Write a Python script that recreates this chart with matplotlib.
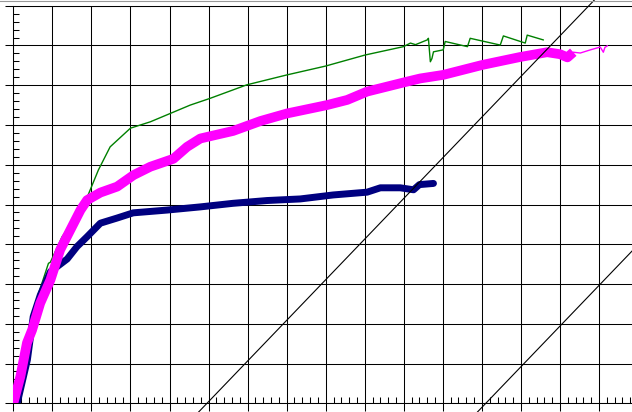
import numpy as np
import matplotlib
matplotlib.use("Agg")
from matplotlib import pyplot as plt
from matplotlib.ticker import MultipleLocator, AutoMinorLocator
from matplotlib.lines import Line2D

# curves, in grid units (1 unit = 1 grid cell)
pink_x = [0.00, 0.18, 0.35, 0.48, 0.69, 0.95, 1.20, 1.46, 1.72, 1.89, 2.23, 2.66, 3.08, 3.51,
          4.10, 4.45, 4.79, 5.63, 6.33, 7.01, 8.03, 8.55, 9.06, 10.08, 10.42, 11.01, 12.01,
          12.98, 13.67, 14.00, 14.19, 14.34]
pink_y = [0.00, 0.67, 1.52, 1.84, 2.52, 3.10, 3.86, 4.36, 4.86, 5.11, 5.30, 5.45, 5.74, 5.95,
          6.15, 6.45, 6.66, 6.85, 7.10, 7.29, 7.50, 7.63, 7.84, 8.09, 8.17, 8.26, 8.51,
          8.71, 8.83, 8.78, 8.70, 8.83]
pink_tail_x = [14.34, 14.52, 14.78, 15.03, 15.11, 15.15, 15.21]
pink_tail_y = [8.83, 8.81, 8.89, 8.96, 8.83, 8.95, 8.99]

navy_x = [0.10, 0.36, 0.51, 0.69, 0.95, 1.38, 1.63, 1.89, 2.23, 2.66, 3.07, 3.94, 4.79, 5.63,
          6.50, 7.35, 8.19, 9.06, 9.40, 9.91, 10.25, 10.40, 10.76]
navy_y = [0.00, 1.09, 2.18, 2.72, 3.31, 3.63, 3.94, 4.19, 4.53, 4.66, 4.79, 4.86, 4.94, 5.03,
          5.10, 5.14, 5.24, 5.31, 5.42, 5.42, 5.37, 5.50, 5.53]

green_x = [0.05, 0.40, 0.65, 0.90, 0.95, 1.25, 1.79, 2.18, 2.48, 3.00, 3.51, 4.02, 4.53, 5.04,
           5.98, 7.01, 7.99, 9.01, 9.99, 10.17, 10.30, 10.60, 10.63, 10.68, 10.72, 10.76,
           11.01, 11.06, 11.63, 11.70, 12.47, 12.55, 13.11, 13.16, 13.57]
green_y = [0.00, 1.90, 2.77, 3.52, 3.55, 4.19, 4.94, 5.87, 6.45, 6.92, 7.08, 7.29, 7.50, 7.67,
           8.01, 8.26, 8.48, 8.76, 8.97, 9.06, 9.02, 9.14, 9.18, 8.59, 8.67, 8.84,
           8.89, 9.10, 8.97, 9.18, 9.01, 9.24, 9.06, 9.26, 9.14]

# offset lines: x = start + slope * y
offset_starts = [4.96, 12.10]
offset_slope = 0.978
line_y = [-0.25, 10.4]

W, H = 632, 412
fig = plt.figure(figsize=(W / 100, H / 100), dpi=100)
left, bottom, top = 13.3, 412 - 403.3, 5.7
ax = fig.add_axes([left / W, bottom / H, (W - left) / W, (H - top - bottom) / H])

ax.set_xlim(0, (W - left) / 39.05)
ax.set_ylim(0, 10)

ax.xaxis.set_major_locator(MultipleLocator(1))
ax.yaxis.set_major_locator(MultipleLocator(1))
ax.xaxis.set_minor_locator(AutoMinorLocator(5))
ax.yaxis.set_minor_locator(AutoMinorLocator(5))
ax.grid(True, which="major", color="black", lw=0.75)
ax.set_axisbelow(True)

ax.tick_params(which="major", direction="out", length=6, width=0.75, color="black",
               labelbottom=False, labelleft=False)
ax.tick_params(which="minor", direction="in", length=4, width=0.75, color="black")

for s in ["left", "bottom", "top"]:
    ax.spines[s].set_color("black")
    ax.spines[s].set_linewidth(0.75)
ax.spines["right"].set_visible(False)

ax.plot(green_x, green_y, color="#008000", lw=1.0, zorder=3)
ax.plot(navy_x, navy_y, color="#000080", lw=5.0, solid_capstyle="round",
        solid_joinstyle="round", zorder=4)
ax.plot(pink_x, pink_y, color="#FF00FF", lw=7.0, solid_capstyle="butt",
        solid_joinstyle="round", zorder=5)
ax.plot(pink_tail_x, pink_tail_y, color="#FF00FF", lw=1.0, zorder=5)

for x0 in offset_starts:
    xs = [x0 + offset_slope * y for y in line_y]
    ax.plot(xs, line_y, color="black", lw=0.8, clip_on=False, zorder=6)

fig.add_artist(Line2D([0, 1], [1 - 0.5 / H, 1 - 0.5 / H], color="#999999", lw=0.8))

fig.savefig("out.png", dpi=100)
